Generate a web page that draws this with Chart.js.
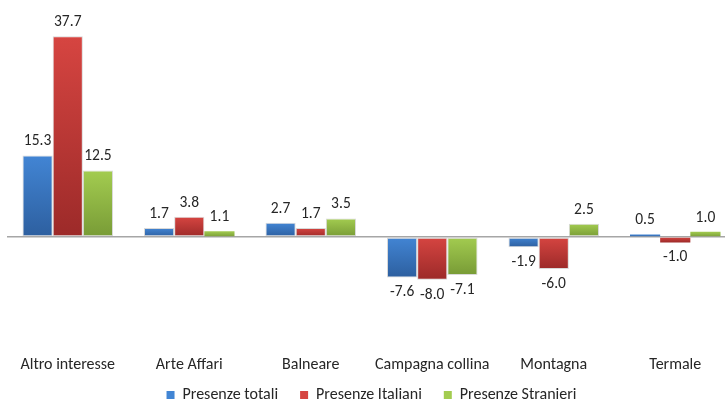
<!DOCTYPE html>
<html>
<head>
<meta charset="utf-8">
<script src="https://cdn.jsdelivr.net/npm/chart.js@4"></script>
<style>
  html, body { margin: 0; padding: 0; background: #fff; overflow: hidden; }
  #wrap { width: 745px; height: 413px; }
</style>
</head>
<body>
<div id="wrap"><canvas id="chart" width="745" height="413"></canvas></div>
<script>
/* ======================
   DATA
====================== */
const categories = ["Altro interesse", "Arte Affari", "Balneare", "Campagna collina", "Montagna", "Termale"];
const seriesNames = ["Presenze totali", "Presenze Italiani", "Presenze Stranieri"];
const totali   = [15.3, 1.7, 2.7, -7.6, -1.9, 0.5];
const italiani = [37.7, 3.8, 1.7, -8.0, -6.0, -1.0];
const stranieri = [12.5, 1.1, 3.5, -7.1, 2.5, 1.0];

const FONT = "Carlito, Calibri, Lato, sans-serif";
const TEXT = "#262626";

/* top / bottom colours of the bar gradients */
const shades = [
  ["#4285d4", "#2d5f9f"],
  ["#d64541", "#9c2a29"],
  ["#a3cc50", "#789b36"]
];

function barFill(idx) {
  return ctx => {
    const chart = ctx.chart;
    const y = chart.scales.y;
    const v = ctx.raw;
    if (!y || v === undefined) return shades[idx][0];
    const top = y.getPixelForValue(Math.max(v, 0));
    const bot = y.getPixelForValue(Math.min(v, 0));
    if (!isFinite(top) || !isFinite(bot) || top === bot) return shades[idx][0];
    const g = chart.ctx.createLinearGradient(0, top, 0, bot);
    g.addColorStop(0, shades[idx][0]);
    g.addColorStop(1, shades[idx][1]);
    return g;
  };
}

/* ======================
   VALUE LABELS
====================== */
const valueLabels = {
  id: "valueLabels",
  afterDatasetsDraw(chart) {
    const c = chart.ctx;
    c.save();
    c.font = "15.5px " + FONT;
    c.fillStyle = TEXT;
    c.textAlign = "center";
    c.textBaseline = "middle";
    chart.data.datasets.forEach((ds, i) => {
      chart.getDatasetMeta(i).data.forEach((bar, j) => {
        const v = ds.data[j];
        const ty = v >= 0 ? bar.y - 14 : bar.y + 15;
        c.fillText(v.toFixed(1), bar.x, ty);
      });
    });
    c.restore();
  }
};

/* ======================
   CHART
====================== */
const lists = [totali, italiani, stranieri];

new Chart(document.getElementById("chart"), {
  type: "bar",
  data: {
    labels: categories,
    datasets: lists.map((d, i) => ({
      label: seriesNames[i],
      data: d,
      backgroundColor: barFill(i),
      borderColor: "rgba(170,170,170,0.45)",
      // thin bars keep their colour, no outline
      borderWidth: ctx => Math.abs(ctx.raw) < 1.5 ? 0 : 1,
      borderSkipped: false,
      barPercentage: 1,
      categoryPercentage: 0.745
    }))
  },
  options: {
    responsive: false,
    animation: false,
    devicePixelRatio: 1,
    layout: { padding: { left: 7, right: 9, top: 24, bottom: 0 } },
    plugins: {
      tooltip: { enabled: false },
      legend: {
        position: "bottom",
        // empty title with negative padding pulls the legend row up under the axis labels
        title: { display: true, text: "", font: { size: 1 }, padding: { top: -12, bottom: 0 } },
        labels: {
          boxWidth: 8,
          boxHeight: 8,
          padding: 22,
          color: TEXT,
          font: { family: FONT, size: 16 },
          generateLabels: chart => seriesNames.map((n, i) => ({
            text: n,
            fillStyle: shades[i][0],
            strokeStyle: shades[i][0],
            fontColor: TEXT,
            lineWidth: 0,
            datasetIndex: i
          }))
        }
      }
    },
    scales: {
      x: {
        grid: { display: false, drawTicks: false },
        border: { display: false },
        ticks: {
          color: TEXT,
          font: { family: FONT, size: 16 },
          maxRotation: 0,
          autoSkip: false,
          padding: 12
        },
        afterFit: s => { s.height = 32.2; }
      },
      y: {
        min: -20,
        max: 40,
        ticks: { display: false, stepSize: 20 },
        border: { display: false },
        grid: {
          drawTicks: false,
          color: ctx => ctx.tick && ctx.tick.value === 0 ? "#a6a6a6" : "transparent",
          lineWidth: ctx => ctx.tick && ctx.tick.value === 0 ? 1.5 : 0
        }
      }
    }
  },
  plugins: [valueLabels]
});
</script>
</body>
</html>
